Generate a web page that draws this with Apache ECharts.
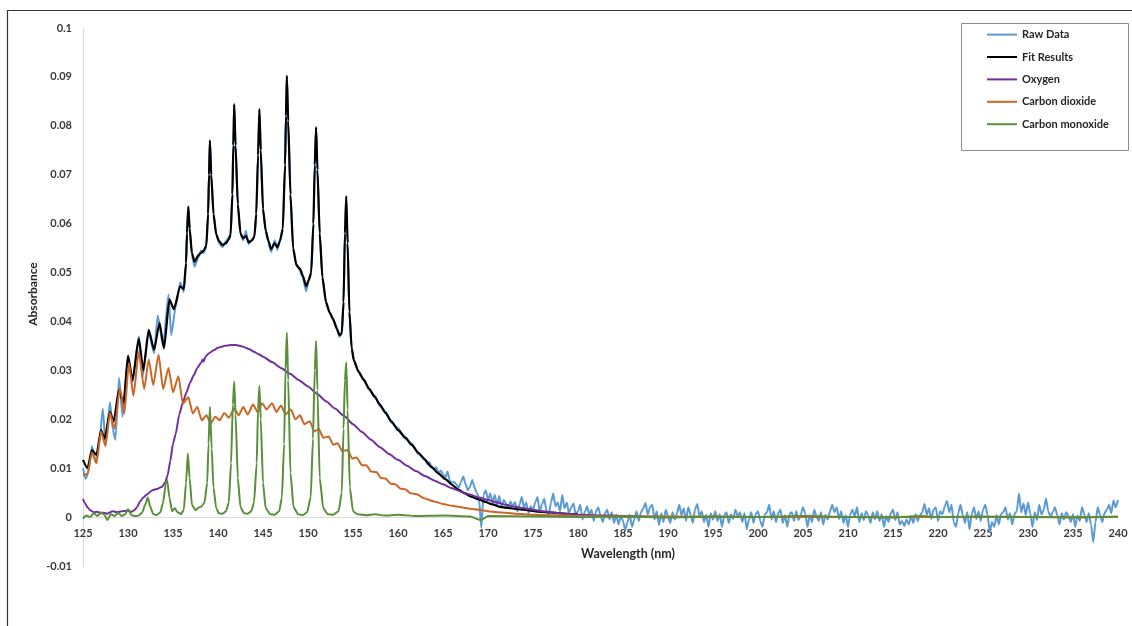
<!DOCTYPE html>
<html>
<head>
<meta charset="utf-8">
<script src="https://cdn.jsdelivr.net/npm/echarts@6/dist/echarts.min.js"></script>
<style>
html,body{margin:0;padding:0;background:#fff;}
#chart{width:1132px;height:626px;}
</style>
</head>
<body>
<div id="chart"></div>
<script>
// ---------- DATA ----------
const xTicks = [125,130,135,140,145,150,155,160,165,170,175,180,185,190,195,200,205,210,215,220,225,230,235,240];
const yTicks = [-0.01,0,0.01,0.02,0.03,0.04,0.05,0.06,0.07,0.08,0.09,0.1];
const seriesNames = ['Raw Data','Fit Results','Oxygen','Carbon dioxide','Carbon monoxide'];

// Fit Results (black)
const fitX = [125.0,125.5,126.0,126.5,127.0,127.4,128.0,128.4,129.0,129.5,130.0,130.5,131.2,131.7,132.3,132.9,133.5,134.0,134.6,135.1,135.8,136.2,
  136.45,136.55,136.7,136.85,137.1,137.4,137.8,138.1,138.4,138.7,138.9,139.0,139.1,139.25,139.5,139.8,140.1,140.5,140.9,141.2,141.4,
  141.6,141.7,141.8,141.95,142.2,142.5,142.8,143.1,143.4,143.8,144.05,144.25,144.45,144.6,144.75,145.0,145.3,145.6,145.9,146.3,146.6,146.9,
  147.2,147.45,147.55,147.65,147.8,148.05,148.35,148.7,149.1,149.4,149.8,150.1,150.35,150.6,150.75,150.9,151.05,151.3,151.6,152.0,152.4,152.8,
  153.2,153.5,153.75,153.95,154.1,154.25,154.4,154.6,154.85,155.1,155.6,156.2,156.8,157.4,158.0,158.6,159.3,160.0,160.8,161.5,162.3,163.0,
  163.7,164.5,165.3,166.0,166.7,167.4,168.1,169.0,169.7,170.5,171.3,172.2,173.3,174.4,175.5,176.6,177.7,179.0,180.0];
const fitY = [0.0117,0.0100,0.0137,0.0127,0.0178,0.0160,0.0215,0.0195,0.0260,0.0232,0.0330,0.0280,0.0365,0.0300,0.0383,0.0342,0.0397,0.0345,0.0445,0.0425,0.0472,0.0466,
  0.0520,0.0580,0.0635,0.0590,0.0540,0.0522,0.0535,0.0540,0.0545,0.0555,0.0620,0.0700,0.0770,0.0700,0.0620,0.0578,0.0565,0.0556,0.0560,0.0568,0.0578,
  0.0660,0.0760,0.0844,0.0760,0.0640,0.0580,0.0570,0.0575,0.0562,0.0566,0.0575,0.0620,0.0740,0.0834,0.0750,0.0630,0.0585,0.0565,0.0548,0.0560,0.0552,0.0565,
  0.0590,0.0720,0.0820,0.0902,0.0810,0.0660,0.0550,0.0515,0.0508,0.0495,0.0472,0.0485,0.0500,0.0600,0.0720,0.0797,0.0710,0.0580,0.0490,0.0440,0.0418,0.0405,
  0.0385,0.0372,0.0375,0.0440,0.0580,0.0656,0.0560,0.0420,0.0345,0.0320,0.0298,0.0280,0.0262,0.0246,0.0230,0.0213,0.0195,0.0178,0.0163,0.0148,0.0131,0.0117,
  0.0103,0.0089,0.0077,0.0066,0.0056,0.0049,0.0042,0.0036,0.0031,0.0026,0.0021,0.0019,0.0016,0.0014,0.0011,0.0010,0.0008,0.0006,0.0005];

// Raw Data (blue), structured part up to 163 nm
const rawX = [125.0,125.3,125.6,126.0,126.4,126.8,127.2,127.5,128.0,128.3,128.6,129.0,129.4,130.0,130.5,131.2,131.6,132.3,132.9,133.3,133.9,134.5,134.8,135.3,135.8,136.2,
  136.45,136.55,136.7,136.85,137.1,137.4,137.8,138.1,138.4,138.7,138.9,139.0,139.1,139.25,139.5,139.8,140.1,140.5,140.9,141.2,141.4,
  141.6,141.7,141.8,141.95,142.2,142.5,142.8,143.1,143.4,143.8,144.05,144.25,144.45,144.6,144.75,145.0,145.3,145.6,145.9,146.3,146.6,146.9,
  147.2,147.45,147.55,147.65,147.8,148.05,148.35,148.7,149.1,149.4,149.8,150.1,150.35,150.6,150.75,150.9,151.05,151.3,151.6,152.0,152.4,152.8,
  153.2,153.5,153.75,153.95,154.1,154.25,154.4,154.6,154.85,155.1,155.6,156.2,156.8,157.4,158.0,158.6,159.3,160.0,160.8,161.5,162.3,163.0];
const rawY = [0.0100,0.0078,0.0092,0.0145,0.0112,0.0150,0.0222,0.0150,0.0235,0.0180,0.0158,0.0285,0.0205,0.0325,0.0275,0.0370,0.0285,0.0378,0.0335,0.0412,0.0350,0.0455,0.0372,0.0430,0.0480,0.0460,
  0.0518,0.0580,0.0635,0.0590,0.0535,0.0512,0.0530,0.0545,0.0540,0.0552,0.0615,0.0700,0.0770,0.0700,0.0618,0.0580,0.0560,0.0552,0.0565,0.0572,0.0575,
  0.0660,0.0760,0.0844,0.0760,0.0638,0.0578,0.0566,0.0585,0.0558,0.0568,0.0572,0.0618,0.0740,0.0834,0.0750,0.0628,0.0588,0.0562,0.0542,0.0566,0.0546,0.0568,
  0.0588,0.0720,0.0820,0.0902,0.0810,0.0658,0.0548,0.0518,0.0504,0.0490,0.0462,0.0488,0.0498,0.0598,0.0720,0.0797,0.0710,0.0578,0.0492,0.0436,0.0420,0.0402,
  0.0388,0.0368,0.0378,0.0436,0.0580,0.0656,0.0560,0.0418,0.0348,0.0322,0.0296,0.0283,0.0260,0.0249,0.0226,0.0216,0.0192,0.0182,0.0160,0.0151,0.0128,0.0120];

// Raw Data (blue), noisy part sampled every 0.25 nm from 163.25 to 240 nm
const rawNoiseStart = 163.25;
const rawNoiseStep = 0.25;
const rawNoiseY = [
  0.0108,0.0112,0.0100,0.0098,   // 163
  0.0102,0.0090,0.0095,0.0088,   // 164
  0.0080,0.0093,0.0075,0.0070,   // 165
  0.0072,0.0066,0.0060,0.0072,   // 166
  0.0083,0.0068,0.0055,0.0062,   // 167
  0.0076,0.0060,0.0050,0.0038,   // 168
  -0.0022,0.0045,0.0055,0.0035,  // 169
  0.0048,0.0030,0.0045,0.0025,   // 170
  0.0043,0.0020,0.0035,0.0028,   // 171
  0.0018,0.0032,0.0022,0.0031,   // 172
  0.0012,0.0025,0.0041,0.0020,   // 173
  0.0030,0.0008,0.0022,0.0014,   // 174
  0.0030,0.0041,0.0010,0.0026,   // 175
  0.0038,0.0012,0.0005,0.0030,   // 176
  0.0048,0.0022,0.0030,0.0012,   // 177
  0.0045,0.0018,0.0030,0.0008,   // 178
  0.0020,0.0028,0.0005,0.0012,   // 179
  0.0025,-0.0005,0.0010,0.0022,  // 180
  0.0005,0.0015,-0.0008,0.0012,  // 181
  0.0020,0.0003,-0.0010,0.0008,  // 182
  0.0015,-0.0005,0.0010,-0.0012, // 183
  0.0005,-0.0015,0.0002,-0.0008, // 184
  -0.0027,-0.0010,0.0005,-0.0020,// 185
  -0.0005,0.0012,-0.0008,0.0010, // 186
  0.0018,0.0029,0.0005,0.0020,   // 187
  0.0025,-0.0005,0.0012,-0.0016, // 188
  0.0008,-0.0010,0.0015,0.0002,  // 189
  -0.0012,0.0010,-0.0005,0.0008, // 190
  0.0025,0.0004,0.0018,-0.0008,  // 191
  0.0020,0.0006,-0.0012,0.0015,  // 192
  0.0027,0.0002,0.0012,-0.0010,  // 193
  0.0005,-0.0020,0.0008,-0.0005, // 194
  0.0012,-0.0008,0.0006,-0.0020, // 195
  0.0004,0.0010,-0.0012,0.0006,  // 196
  -0.0004,0.0015,0.0002,0.0010,  // 197
  -0.0010,0.0008,-0.0025,-0.0005,// 198
  0.0010,-0.0012,0.0006,0.0012,  // 199
  -0.0008,-0.0020,0.0005,0.0010, // 200
  0.0025,-0.0005,0.0012,-0.0010, // 201
  0.0008,0.0015,-0.0012,0.0004,  // 202
  -0.0020,0.0006,0.0010,-0.0008, // 203
  0.0012,-0.0006,0.0005,0.0020,  // 204
  0.0008,-0.0020,0.0004,-0.0010, // 205
  0.0015,0.0002,-0.0008,0.0010,  // 206
  -0.0015,0.0005,-0.0005,0.0012, // 207
  0.0025,0.0010,0.0020,-0.0004,  // 208
  0.0012,-0.0012,0.0004,-0.0020, // 209
  0.0006,0.0015,0.0002,0.0020,   // 210
  -0.0010,0.0008,-0.0006,0.0012, // 211
  0.0004,-0.0012,0.0010,-0.0004, // 212
  0.0012,-0.0008,0.0006,-0.0020, // 213
  0.0002,-0.0010,0.0008,0.0015,  // 214
  -0.0006,0.0010,-0.0015,-0.0008,// 215
  -0.0018,-0.0005,-0.0015,0.0002,// 216
  -0.0012,0.0006,-0.0008,0.0004, // 217
  0.0010,0.0027,0.0005,0.0018,   // 218
  -0.0004,0.0015,0.0020,-0.0008, // 219
  0.0012,0.0006,0.0022,0.0033,   // 220
  0.0010,0.0025,-0.0010,-0.0020, // 221
  0.0008,0.0025,0.0004,-0.0012,  // 222
  0.0010,-0.0025,0.0006,0.0020,  // 223
  -0.0004,0.0012,-0.0008,0.0015, // 224
  0.0025,0.0005,-0.0030,-0.0010, // 225
  -0.0020,0.0004,-0.0015,0.0006, // 226
  0.0010,0.0020,-0.0005,0.0008,  // 227
  -0.0015,0.0006,0.0012,0.0048,  // 228
  0.0010,0.0028,0.0004,0.0030,   // 229
  0.0008,-0.0020,0.0010,-0.0006, // 230
  0.0025,0.0005,0.0015,0.0038,   // 231
  0.0012,0.0000,0.0010,0.0020,   // 232
  0.0004,-0.0015,0.0008,-0.0005, // 233
  0.0010,0.0002,-0.0010,0.0006,  // 234
  -0.0020,0.0004,-0.0008,0.0020, // 235
  0.0006,-0.0010,0.0008,-0.0015, // 236
  -0.0051,-0.0010,0.0020,0.0005, // 237
  -0.0010,0.0008,0.0015,0.0025,  // 238
  0.0008,0.0034,0.0020,0.0035    // 239
];

// Oxygen (purple)
const o2X = [125.0,125.2,125.5,125.8,126.2,126.6,126.9,127.3,127.7,128.3,128.8,129.3,129.9,130.4,130.7,131.0,131.3,131.7,132.1,132.7,133.3,133.8,134.1,134.4,134.7,
  135.0,135.3,135.7,136.1,136.5,136.9,137.3,137.7,138.1,138.3,138.4,138.6,139.0,139.5,140.0,140.5,141.0,141.5,142.0,142.5,143.0,143.5,144.0,144.5,145.0,
  146.0,147.0,148.0,149.0,150.0,151.0,152.0,153.0,154.0,155.0,156.0,157.0,158.0,159.0,160.0,161.0,162.0,163.0,164.0,165.0,166.0,167.0,168.0,169.0,170.0,
  171.0,172.0,173.0,174.0,175.0,176.0,178.0,180.0,183.0,187.0,190.0,240.0];
const o2Y = [0.0037,0.0029,0.0020,0.0014,0.0010,0.0011,0.0008,0.0009,0.0007,0.0012,0.0010,0.0012,0.0013,0.0011,0.0014,0.0020,0.0031,0.0040,0.0046,0.0055,0.0058,0.0062,0.0070,0.0085,0.0115,
  0.0150,0.0170,0.0210,0.0235,0.0255,0.0275,0.0290,0.0305,0.0315,0.0322,0.0318,0.0328,0.0335,0.0341,0.0346,0.0349,0.0351,0.0352,0.0352,0.0350,0.0347,0.0343,0.0338,0.0333,0.0328,
  0.0317,0.0305,0.0293,0.0280,0.0267,0.0252,0.0237,0.0222,0.0207,0.0190,0.0174,0.0158,0.0143,0.0129,0.0117,0.0105,0.0094,0.0084,0.0075,0.0067,0.0059,0.0052,0.0046,0.0040,0.0035,
  0.0030,0.0025,0.0021,0.0018,0.0015,0.0012,0.0008,0.0005,0.0003,0.0001,0.0000,0.0000];

// Carbon dioxide (orange)
const co2X = [125.0,125.5,126.0,126.5,127.0,127.5,128.0,128.5,129.1,129.6,130.1,130.6,131.2,131.8,132.3,132.8,133.4,133.9,134.5,135.0,135.6,136.1,136.7,137.2,137.7,
  138.2,138.7,139.2,139.7,140.2,140.7,141.2,141.8,142.3,142.8,143.3,143.9,144.4,144.9,145.4,146.0,146.5,147.0,147.5,148.1,148.6,149.1,149.6,150.2,150.7,
  151.2,151.7,152.3,152.8,153.3,153.8,154.4,154.9,155.4,156.0,156.5,157.0,157.6,158.1,158.6,159.2,159.7,160.3,160.8,161.4,162.0,163.0,164.0,165.0,166.0,
  167.0,168.0,169.0,170.0,171.0,172.0,173.0,175.0,177.0,180.0,185.0,190.0,200.0,240.0];
const co2Y = [0.0086,0.0088,0.0132,0.0110,0.0175,0.0145,0.0213,0.0180,0.0264,0.0212,0.0315,0.0248,0.0338,0.0262,0.0322,0.0270,0.0332,0.0262,0.0305,0.0255,0.0288,0.0232,0.0245,0.0212,0.0225,
  0.0198,0.0208,0.0192,0.0205,0.0198,0.0213,0.0203,0.0222,0.0208,0.0225,0.0210,0.0230,0.0215,0.0233,0.0220,0.0233,0.0215,0.0228,0.0210,0.0220,0.0200,0.0208,0.0190,0.0196,0.0175,
  0.0180,0.0162,0.0165,0.0148,0.0151,0.0135,0.0137,0.0120,0.0122,0.0106,0.0106,0.0093,0.0092,0.0080,0.0079,0.0068,0.0067,0.0058,0.0057,0.0049,0.0047,0.0038,0.0032,0.0027,0.0023,
  0.0020,0.0017,0.0015,0.0012,0.0010,0.0009,0.0007,0.0005,0.0004,0.0002,0.0001,0.0001,0.0000,0.0000];

// Carbon monoxide (green)
const coX = [125.0,125.4,125.8,126.2,126.6,127.0,127.4,127.7,128.1,128.5,128.9,129.3,129.7,130.0,130.4,130.8,131.2,131.6,131.9,132.2,132.5,132.8,133.2,133.6,133.9,
  134.2,134.35,134.6,134.9,135.2,135.5,135.9,136.2,136.45,136.65,136.85,137.1,137.5,137.9,138.2,138.5,138.8,138.95,139.1,139.3,139.5,139.8,140.1,140.5,140.9,
  141.2,141.45,141.65,141.8,141.95,142.2,142.5,142.9,143.3,143.7,144.0,144.3,144.45,144.6,144.75,145.0,145.3,145.8,146.3,146.8,147.1,147.35,147.5,147.65,147.8,
  148.05,148.4,148.9,149.4,149.9,150.3,150.55,150.75,150.9,151.05,151.3,151.7,152.2,152.8,153.4,153.75,153.95,154.1,154.25,154.4,154.65,155.0,155.5,156.5,
  157.5,158.5,160.0,162.0,165.0,168.0,169.2,170.0,175.0,180.0,185.0,190.0,195.0,200.0,205.0,210.0,215.0,218.0,220.0,225.0,230.0,235.0,240.0];
const coY = [-0.0003,0.0003,0.0000,0.0008,0.0002,0.0010,0.0004,-0.0006,0.0006,0.0002,0.0009,0.0002,0.0006,0.0016,0.0004,0.0002,0.0003,0.0010,0.0025,0.0040,0.0020,0.0006,0.0004,0.0010,0.0030,
  0.0068,0.0076,0.0040,0.0012,0.0018,0.0010,0.0006,0.0015,0.0070,0.0130,0.0080,0.0025,0.0014,0.0020,0.0022,0.0030,0.0070,0.0150,0.0225,0.0140,0.0060,0.0018,0.0008,0.0007,0.0012,
  0.0030,0.0110,0.0230,0.0277,0.0210,0.0080,0.0020,0.0008,0.0007,0.0012,0.0030,0.0110,0.0220,0.0268,0.0200,0.0070,0.0018,0.0006,0.0005,0.0012,0.0040,0.0150,0.0300,0.0377,0.0280,
  0.0090,0.0020,0.0006,0.0004,0.0010,0.0040,0.0160,0.0300,0.0360,0.0260,0.0080,0.0018,0.0006,0.0005,0.0012,0.0050,0.0180,0.0280,0.0316,0.0220,0.0060,0.0012,0.0006,0.0004,
  0.0006,0.0003,0.0005,0.0002,0.0003,0.0001,-0.0006,0.0002,0.0001,0.0000,0.0001,-0.0001,0.0001,0.0000,0.0002,0.0000,-0.0001,0.0002,0.0000,0.0001,0.0000,-0.0001,0.0001];

// ---------- CHART ----------
function pairs(xs, ys) { return xs.map((x, i) => [x, ys[i]]); }
const rawData = pairs(rawX, rawY).concat(rawNoiseY.map((v, i) => [rawNoiseStart + i * rawNoiseStep, v]));

const FONT = 'Lato';
const GRID_TOP = 28, GRID_BOTTOM = 60, CHART_H = 626;
const plotH = CHART_H - GRID_TOP - GRID_BOTTOM;
const yMin = yTicks[0], yMax = yTicks[yTicks.length - 1];
// distance from the bottom of the plot up to the value 0, so the x axis sits on y = 0
const zeroOffset = plotH * (0 - yMin) / (yMax - yMin);

const chart = echarts.init(document.getElementById('chart'), null, { renderer: 'canvas' });
const line = (name, data, color, width) => ({
  name, type: 'line', data, symbol: 'none', showSymbol: false,
  smooth: 0.2, smoothMonotone: 'x',
  lineStyle: { color, width }, itemStyle: { color }, emphasis: { disabled: true }
});

chart.setOption({
  animation: false,
  backgroundColor: '#ffffff',
  grid: { left: 83, right: 14, top: GRID_TOP, bottom: GRID_BOTTOM, containLabel: false },
  xAxis: {
    type: 'value', min: xTicks[0], max: xTicks[xTicks.length - 1], interval: 5,
    position: 'bottom', offset: -zeroOffset,
    axisLine: { show: true, onZero: false, lineStyle: { color: '#d9d9d9', width: 1 } },
    axisTick: { show: false }, splitLine: { show: false },
    axisLabel: { color: '#3a3a3a', fontFamily: FONT, fontWeight: 'bold', fontSize: 11, margin: 11 }
  },
  yAxis: {
    type: 'value', min: yMin, max: yMax, interval: 0.01,
    axisLine: { show: true, onZero: false, lineStyle: { color: '#d9d9d9', width: 1 } },
    axisTick: { show: false }, splitLine: { show: false },
    axisLabel: { color: '#3a3a3a', fontFamily: FONT, fontWeight: 'bold', fontSize: 11, margin: 11 }
  },
  legend: {
    data: seriesNames, orient: 'vertical', left: 986, top: 29,
    itemWidth: 30, itemHeight: 14, itemGap: 11.2, padding: 0,
    itemStyle: { opacity: 0 },
    textStyle: { color: '#262626', fontFamily: FONT, fontWeight: 'bold', fontSize: 11 },
    selectedMode: false
  },
  graphic: [
    { type: 'rect', silent: true, shape: { x: 7.5, y: 10.5, width: 1200, height: 700 },
      style: { fill: 'none', stroke: '#333333', lineWidth: 1.2 } },
    { type: 'rect', silent: true, shape: { x: 961.5, y: 23.5, width: 167, height: 127 },
      style: { fill: 'none', stroke: '#8c8c8c', lineWidth: 1 } },
    { type: 'text', silent: true, x: 628, y: 554,
      style: { text: 'Wavelength (nm)', fill: '#262626', font: 'bold 12.5px Lato', align: 'center', verticalAlign: 'middle' } },
    { type: 'text', silent: true, x: 33, y: 294, rotation: Math.PI / 2,
      style: { text: 'Absorbance', fill: '#262626', font: 'bold 12px Lato', align: 'center', verticalAlign: 'middle' } }
  ],
  series: [
    line(seriesNames[0], rawData, '#5b9bd5', 2),
    line(seriesNames[1], pairs(fitX, fitY), '#000000', 2.2),
    line(seriesNames[2], pairs(o2X, o2Y), '#7030a0', 2),
    line(seriesNames[3], pairs(co2X, co2Y), '#cc6626', 2),
    line(seriesNames[4], pairs(coX, coY), '#5a8f3a', 2)
  ]
});
</script>
</body>
</html>
